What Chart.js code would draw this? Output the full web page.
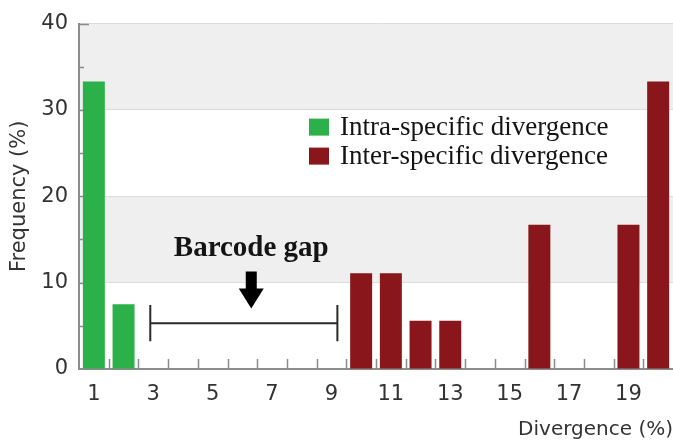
<!DOCTYPE html>
<html>
<head>
<meta charset="utf-8">
<script src="https://cdn.jsdelivr.net/npm/chart.js@4.4.0/dist/chart.umd.min.js"></script>
<style>
  html, body { margin: 0; padding: 0; background: #fff; overflow: hidden; }
  #wrap { width: 673px; height: 445px; }
</style>
</head>
<body>
<div id="wrap"><canvas id="chart" width="673" height="445"></canvas></div>
<script>
// divergence classes (%) on the x axis
const divergence = ['1', '2', '3', '4', '5', '6', '7', '8', '9', '10',
                    '11', '12', '13', '14', '15', '16', '17', '18', '19', '20'];
const xTickLabels = ['1', '3', '5', '7', '9', '11', '13', '15', '17', '19'];
const yTicks = [0, 10, 20, 30, 40];

// frequency (%) per class
const intraSpecific = [33.3, 7.5, null, null, null, null, null, null, null, null,
                       null, null, null, null, null, null, null, null, null, null];
const interSpecific = [null, null, null, null, null, null, null, null, null, 11.1,
                       11.1, 5.6, 5.6, null, null, 16.7, null, null, 16.7, 33.3];

// barcode gap annotation, in data units
const gapFrom = 2.9, gapTo = 9.2, gapLevel = 5.3, gapCap = 2.1;
const arrowAt = 6.3, arrowTop = 11.3, arrowTip = 7.0;
const gapLabel = 'Barcode gap', gapLabelLevel = 13.9;

const axisGrey = '#8c8c8c';

// x position of a divergence value on the category scale
function xPos(scale, d) {
    return scale.getPixelForValue(d - 1);
}

const decorations = {
    id: 'decorations',
    beforeDraw(chart) {
        const { ctx, chartArea: a, scales: { y } } = chart;
        ctx.save();
        for (let i = 0; i < yTicks.length - 1; i++) {
            const top = y.getPixelForValue(yTicks[i + 1]);
            const bottom = y.getPixelForValue(yTicks[i]);
            ctx.fillStyle = i % 2 ? '#efefef' : '#ffffff';
            ctx.fillRect(a.left, top, a.right - a.left, bottom - top);
        }
        ctx.restore();
    },
    beforeDatasetsDraw(chart) {
        const { ctx, chartArea: a, scales: { x, y } } = chart;
        ctx.save();
        ctx.strokeStyle = axisGrey;
        ctx.lineWidth = 1.5;
        ctx.beginPath();
        // small inward ticks on the x axis, between the classes
        for (let i = 1; i < divergence.length; i++) {
            const px = Math.round(x.getPixelForValue(i - 0.5)) + 0.5;
            ctx.moveTo(px, a.bottom);
            ctx.lineTo(px, a.bottom - 10);
        }
        // inward ticks on the y axis, minor every 5
        for (let v = 5; v <= 40; v += 5) {
            const py = Math.round(y.getPixelForValue(v)) + 0.5;
            ctx.moveTo(a.left, py);
            ctx.lineTo(a.left + (v % 10 === 0 ? 10 : 5), py);
        }
        ctx.stroke();
        ctx.restore();
    },
    afterDatasetsDraw(chart) {
        const { ctx, chartArea: a, scales: { x, y } } = chart;
        ctx.save();

        // gap bracket
        const x1 = xPos(x, gapFrom), x2 = xPos(x, gapTo);
        const yl = y.getPixelForValue(gapLevel);
        const yc1 = y.getPixelForValue(gapLevel + gapCap), yc2 = y.getPixelForValue(gapLevel - gapCap);
        ctx.strokeStyle = '#2a2a2a';
        ctx.lineWidth = 2;
        ctx.beginPath();
        ctx.moveTo(x1, yl); ctx.lineTo(x2, yl);
        ctx.moveTo(x1, yc1); ctx.lineTo(x1, yc2);
        ctx.moveTo(x2, yc1); ctx.lineTo(x2, yc2);
        ctx.stroke();

        // arrow
        const ax = xPos(x, arrowAt);
        const at = y.getPixelForValue(arrowTop), ab = y.getPixelForValue(arrowTip);
        const headH = 20, headW = 12.5, shaftW = 5.5;
        ctx.fillStyle = '#000';
        ctx.beginPath();
        ctx.moveTo(ax - shaftW, at);
        ctx.lineTo(ax + shaftW, at);
        ctx.lineTo(ax + shaftW, ab - headH);
        ctx.lineTo(ax + headW, ab - headH);
        ctx.lineTo(ax, ab);
        ctx.lineTo(ax - headW, ab - headH);
        ctx.lineTo(ax - shaftW, ab - headH);
        ctx.closePath();
        ctx.fill();

        // label
        ctx.fillStyle = '#141414';
        ctx.font = 'bold 29px "Liberation Serif", "Times New Roman", serif';
        ctx.textAlign = 'center';
        ctx.textBaseline = 'middle';
        ctx.fillText(gapLabel, ax, y.getPixelForValue(gapLabelLevel));

        // legend inside the plot
        ctx.font = '27px "Liberation Serif", "Times New Roman", serif';
        ctx.textAlign = 'left';
        chart.data.datasets.forEach((ds, i) => {
            const bx = a.left + 230, by = a.top + 95 + i * 29;
            ctx.fillStyle = ds.backgroundColor;
            ctx.fillRect(bx, by, 20, 17);
            ctx.fillStyle = '#141414';
            ctx.fillText(ds.label, bx + 31, by + 9);
        });
        ctx.restore();
    }
};

new Chart(document.getElementById('chart'), {
    type: 'bar',
    data: {
        labels: divergence,
        datasets: [
            {
                label: 'Intra-specific divergence',
                data: intraSpecific,
                backgroundColor: '#2bb04a'
            },
            {
                label: 'Inter-specific divergence',
                data: interSpecific,
                backgroundColor: '#88161b'
            }
        ]
    },
    options: {
        responsive: false,
        animation: false,
        layout: { padding: { top: 18, right: 0, left: 0, bottom: 0 } },
        datasets: {
            bar: { grouped: false, categoryPercentage: 1, barPercentage: 0.74, borderWidth: 0 }
        },
        plugins: {
            legend: { display: false },
            tooltip: { enabled: false }
        },
        scales: {
            x: {
                afterFit: s => { s.height = 76; },
                grid: { display: true, drawOnChartArea: false, drawTicks: false },
                border: { color: axisGrey, width: 2 },
                ticks: {
                    padding: 13,
                    autoSkip: false,
                    maxRotation: 0,
                    color: '#333',
                    font: { family: 'DejaVu Sans', size: 21 },
                    callback: function (value) {
                        const label = this.getLabelForValue(value);
                        return xTickLabels.includes(label) ? label : '';
                    }
                },
                title: {
                    display: true,
                    text: 'Divergence (%)',
                    align: 'end',
                    color: '#333',
                    font: { family: 'DejaVu Sans', size: 20 },
                    padding: { top: 0, bottom: 3 }
                }
            },
            y: {
                min: 0,
                max: 40,
                afterFit: s => { s.width = 79; },
                afterBuildTicks: s => { s.ticks = yTicks.map(v => ({ value: v })); },
                grid: { color: '#dcdcdc', drawTicks: false },
                border: { color: axisGrey, width: 2 },
                ticks: {
                    padding: 11,
                    color: '#333',
                    font: { family: 'DejaVu Sans', size: 21 }
                },
                title: {
                    display: true,
                    text: 'Frequency (%)',
                    color: '#333',
                    font: { family: 'DejaVu Sans', size: 21 },
                    padding: { top: 7, bottom: 0 }
                }
            }
        }
    },
    plugins: [decorations]
});
</script>
</body>
</html>
